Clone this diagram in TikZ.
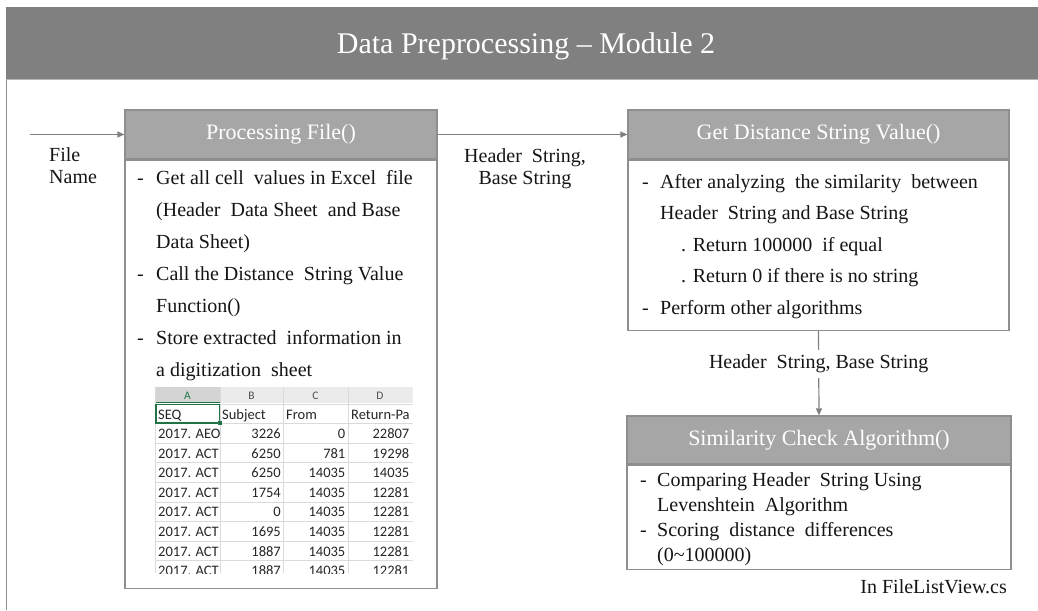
\documentclass[tikz,border=0pt]{standalone}
\usepackage{fontspec}
\setmainfont{Liberation Serif}
\newfontfamily\xlfont{Carlito}
\usetikzlibrary{arrows.meta}
\definecolor{bandgray}{HTML}{808080}
\definecolor{hdrgray}{HTML}{A6A6A6}
\definecolor{edgegray}{HTML}{8E8E8E}
\definecolor{lightline}{HTML}{B4B4B4}
\definecolor{txtc}{HTML}{151515}
\definecolor{gridgray}{HTML}{DADADA}
\definecolor{xlhead}{HTML}{EBEBEB}
\definecolor{xlheadsel}{HTML}{D4D4D4}
\definecolor{xlgreen}{HTML}{217346}
\definecolor{xltext}{HTML}{262626}
\newcommand\dsp{\hspace{0.5em}}
\newcommand\bul[1][19pt]{\makebox[#1][l]{-}}
\newcommand\ind[1][19pt]{\hspace*{#1}}
\begin{document}
\begin{tikzpicture}[x=1pt,y=-1pt,
  hdrbox/.style={draw=edgegray, fill=hdrgray, line width=1.2pt, text=white,
    font=\fontsize{22}{26}\selectfont, inner sep=0pt},
  bodybox/.style={draw=edgegray, fill=white, line width=1.2pt, inner sep=0pt},
  bodytxt/.style={anchor=north west, align=left, inner sep=0pt, text=txtc},
  lbl/.style={text=txtc, font=\fontsize{20}{22}\selectfont, inner sep=1pt},
  arr/.style={draw=bandgray, line width=1.2pt, -{Triangle[length=7pt,width=6pt]}},
  xlcell/.style={font=\xlfont\fontsize{14.5}{16}\selectfont, text=xltext, inner sep=0pt},
  xlcol/.style={font=\xlfont\fontsize{11.5}{13}\selectfont, text=xltext!80, inner sep=0pt}
]
\useasboundingbox (0,0) rectangle (1038,610);
% title band and frame
\fill[bandgray] (6,7) rectangle (1038,79);
\draw[lightline, line width=1.5pt] (6,79.5) -- (1038,79.5);
\draw[edgegray, line width=1.5pt] (6.5,80) -- (6.5,610);
\node[text=white, font=\fontsize{30}{34}\selectfont, inner sep=0pt] (title) at (526,46) {Data Preprocessing – Module 2};

% Processing File box
\node[hdrbox, minimum width=312pt, minimum height=49pt] (pfh) at (281,134.5) {Processing File()};
\node[bodybox, minimum width=312pt, minimum height=428pt, anchor=north] (pfb) at (pfh.south) {};
\node[bodytxt, font=\fontsize{20}{32}\selectfont] (pft) at (137,162.2) {%
\strut\bul Get all cell\dsp values in Excel\dsp file\\
\strut\ind(Header\dsp Data Sheet\dsp and Base\\
\strut\ind Data Sheet)\\
\strut\bul Call the Distance\dsp String Value\\
\strut\ind Function()\\
\strut\bul Store extracted\dsp information in\\
\strut\ind a digitization\dsp sheet};

% Get Distance box
\node[hdrbox, minimum width=381pt, minimum height=49pt] (gdh) at (818.5,134.5) {Get Distance String Value()};
\node[bodybox, minimum width=381pt, minimum height=170pt, anchor=north] (gdb) at (gdh.south) {};
\node[bodytxt, font=\fontsize{20}{31.5}\selectfont] (gdt) at (642,166.2) {%
\strut\bul[18pt]After analyzing\dsp the similarity\dsp between\\
\strut\ind[18pt]Header\dsp String and Base String\\
\strut\ind[39pt]. Return 100000\dsp if equal\\
\strut\ind[39pt]. Return 0 if there is no string\\
\strut\bul[18pt]Perform other algorithms};

% Similarity box
\node[hdrbox, minimum width=384pt, minimum height=48pt] (sch) at (819,440) {Similarity Check Algorithm()};
\node[bodybox, minimum width=384pt, minimum height=104pt, anchor=north] (scb) at (sch.south) {};
\node[bodytxt, font=\fontsize{20}{25}\selectfont] (sct) at (640,469.1) {%
\strut\bul[17pt]Comparing Header\dsp String Using\\
\strut\ind[17pt]Levenshtein\dsp Algorithm\\
\strut\bul[17pt]Scoring\dsp distance\dsp differences\\
\strut\ind[17pt](0\textasciitilde 100000)};

% connectors and labels
\coordinate (fnin) at (30,134.5);
\draw[arr] (fnin) -- (pfh.west);
\node[lbl, align=left, anchor=west] (fname) at (48,166) {File\\Name};
\draw[arr] (pfh.east) -- (gdh.west);
\node[lbl, align=center] (hbs) at (525,169) {Header\dsp String,\\Base String};
\draw[arr] (gdb.south) -- node[lbl, pos=0.39, fill=white, inner ysep=5pt] (vlbl) {Header\dsp String, Base String} (sch.north);
\node[lbl, anchor=east] (loc) at (1008,587) {In FileListView.cs};

% spreadsheet
\begin{scope}
\clip (154.5,387) rectangle (412.5,573);
\fill[xlhead] (155,387) rectangle (412.5,403);
\fill[xlheadsel] (155,387) rectangle (220,403);
\draw[xlgreen, line width=1.2pt] (155,402.4) -- (220,402.4);
\foreach \yy in {0,...,9} {\draw[gridgray, line width=0.8pt] (155,404+19.6*\yy) -- (412.5,404+19.6*\yy);}
\foreach \xx in {155.5,220,283,348} {\draw[gridgray, line width=0.8pt] (\xx,387) -- (\xx,573);}
\node[xlcol, text=xlgreen, anchor=base] (colA) at (187.5,399) {A};
\node[xlcol, anchor=base] (colB) at (251.5,399) {B};
\node[xlcol, anchor=base] (colC) at (315.5,399) {C};
\node[xlcol, anchor=base] (colD) at (380,399) {D};
\node[xlcell, anchor=base west] (hA) at (158,419) {SEQ};
\node[xlcell, anchor=base west] (hB) at (222,419) {Subject};
\node[xlcell, anchor=base west] (hC) at (286,419) {From};
\node[xlcell, anchor=base west] (hD) at (351,419) {Return-Pa};
\foreach \r/\a/\b/\c/\d in {1/2017. AEO/3226/0/22807, 2/2017. ACT/6250/781/19298,
  3/2017. ACT/6250/14035/14035, 4/2017. ACT/1754/14035/12281, 5/2017. ACT/0/14035/12281,
  6/2017. ACT/1695/14035/12281, 7/2017. ACT/1887/14035/12281, 8/2017. ACT/1887/14035/12281} {
  \node[xlcell, anchor=base west] (a\r) at (158,418.8+19.6*\r) {\a};
  \node[xlcell, anchor=base east] (b\r) at (281,418.8+19.6*\r) {\b};
  \node[xlcell, anchor=base east] (c\r) at (345.5,418.8+19.6*\r) {\c};
  \node[xlcell, anchor=base east] (d\r) at (409.5,418.8+19.6*\r) {\d};
}
\draw[xlgreen, line width=1.5pt] (156,404.5) rectangle (219.5,423.2);
\fill[xlgreen] (217.5,421.2) rectangle (221.5,425.2);
\end{scope}
\end{tikzpicture}
\end{document}
